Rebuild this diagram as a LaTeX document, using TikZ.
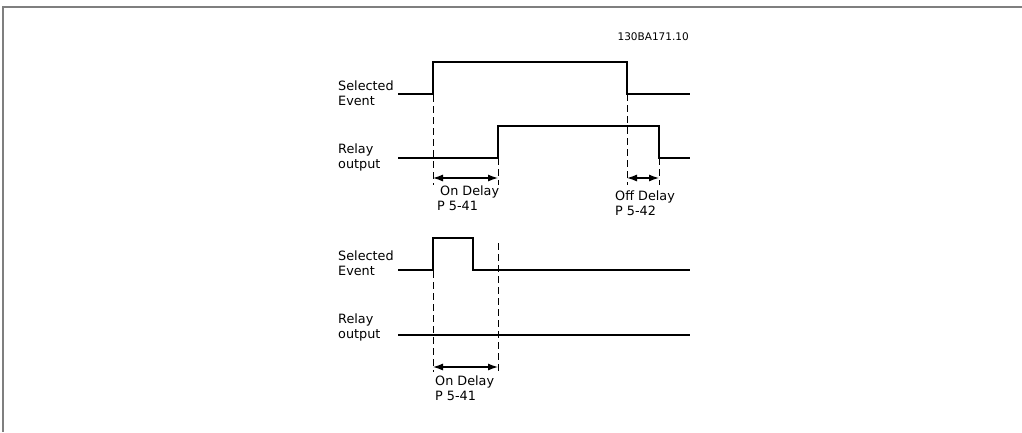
\documentclass[tikz,border=0pt]{standalone}
\usepackage{fontspec}
\setmainfont{DejaVu Sans}
\usetikzlibrary{arrows.meta,positioning}
\definecolor{frame}{HTML}{7F7F7F}

\begin{document}
\begin{tikzpicture}[
  x=1pt,y=-1pt,
  font=\fontsize{12.8}{15}\selectfont,
  signal/.style={line width=1.2pt,line join=miter},
  guide/.style={line width=1pt,dash pattern=on 7pt off 4pt},
  span/.style={{Latex[length=10pt,width=7pt]}-{Latex[length=10pt,width=7pt]},line width=1.2pt},
  siglab/.style={align=left,anchor=west,inner sep=0pt},
  dlab/.style={align=left,anchor=north west,inner sep=0pt}
]
\useasboundingbox (0,0) rectangle (1022,432);
\draw[frame,line width=2pt] (1022,7) -- (3,7) -- (3,432);

\node[anchor=east,inner sep=0pt,font=\fontsize{10.5}{12}\selectfont] (code) at (689,37) {130BA171.10};

% upper case: event longer than the on delay
\node[siglab] (evA) at (338,93) {Selected\\Event};
\node[siglab] (relA) at (338,157) {Relay\\output};
\coordinate (evAon) at (433,62);
\coordinate (evAoff) at (627,94);
\coordinate (relAon) at (498,158);
\coordinate (relAoff) at (659,158);
\draw[signal] (398,94) -| (evAon) -| (evAoff) -- (690,94);
\draw[signal] (398,158) -| (498,126) -| (relAoff) -- (690,158);

\coordinate (gA1) at (433,185);
\coordinate (gA2) at (498,185);
\coordinate (gA3) at (627,185);
\coordinate (gA4) at (659,185);
\draw[guide] (evAon) -- (gA1);
\draw[guide] (relAon) -- (gA2);
\draw[guide] (evAoff) -- (gA3);
\draw[guide] (relAoff) -- (gA4);

\draw[span] ([yshift=7pt]gA1) -- ([yshift=7pt]gA2);
\draw[span] ([yshift=7pt]gA3) -- ([yshift=7pt]gA4);
\node[dlab] (onA) at (437,186) {\hspace*{3pt}On Delay\\P 5-41};
\node[dlab] (offA) at (615,191) {Off Delay\\P 5-42};

% lower case: event shorter than the on delay
\node[siglab] (evB) at (338,263) {Selected\\Event};
\node[siglab] (relB) at (338,327) {Relay\\output};
\coordinate (evBon) at (433,238);
\coordinate (evBoff) at (473,270);
\coordinate (relBon) at (498,243);
\draw[signal] (398,270) -| (evBon) -| (evBoff) -- (690,270);
\draw[signal] (398,335) -- (690,335);

\coordinate (gB1) at (433,372);
\coordinate (gB2) at (498,372);
\draw[guide] (evBon) -- (gB1);
\draw[guide] (relBon) -- (gB2);
\draw[span] ([yshift=5pt]gB1) -- ([yshift=5pt]gB2);
\node[dlab] (onB) at (435,376) {On Delay\\P 5-41};

\end{tikzpicture}
\end{document}
